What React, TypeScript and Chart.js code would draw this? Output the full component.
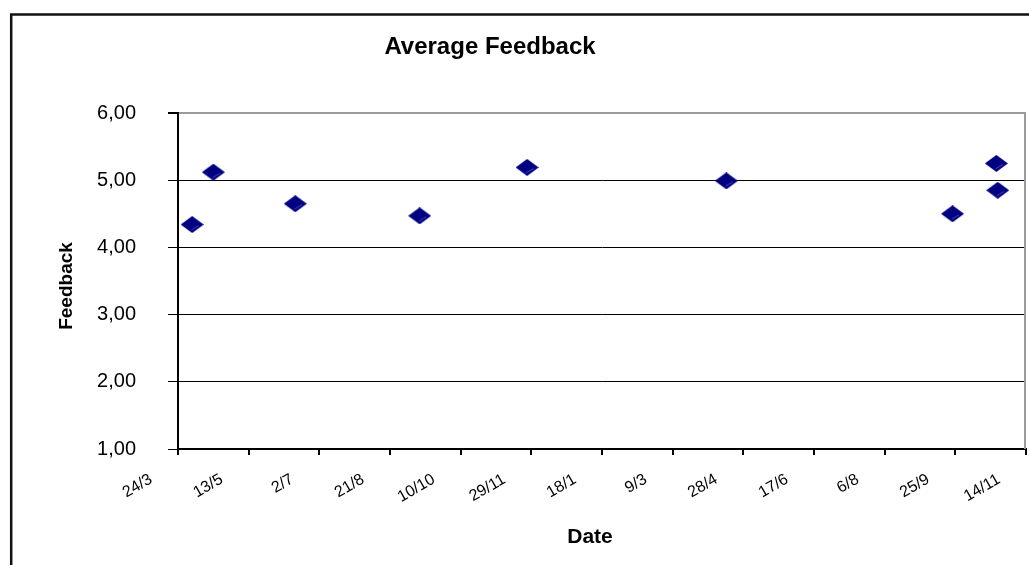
import React, { useEffect, useRef } from 'react';
import { Chart, registerables } from 'chart.js';

Chart.register(...registerables);

// ---- data ----
const chartTitle = 'Average Feedback';
const xAxisTitle = 'Date';
const yAxisTitle = 'Feedback';
const axisStartDate = '2006-03-24';
const axisEndDate = '2007-11-14';
const xTickStepDays = 50;
const yMin = 1;
const yMax = 6;
const yStep = 1;
const feedbackDates = [
  '2006-04-03',
  '2006-04-18',
  '2006-06-15',
  '2006-09-11',
  '2006-11-26',
  '2007-04-16',
  '2007-09-23',
  '2007-10-24',
  '2007-10-25',
];
const feedbackValues = [4.34, 5.12, 4.65, 4.47, 5.19, 4.99, 4.5, 5.25, 4.85];

const DAY = 86400000;
const utc = (s: string) => {
  const [y, m, d] = s.split('-').map(Number);
  return Date.UTC(y, m - 1, d);
};
const startUTC = utc(axisStartDate);
const dayNum = (s: string) => Math.round((utc(s) - startUTC) / DAY);

const W = 1029;
const H = 565;
const FONT = '"Liberation Sans", Arial, Helvetica, sans-serif';

function makeDiamond(): HTMLCanvasElement {
  const c = document.createElement('canvas');
  const w = 23;
  const h = 17;
  c.width = w;
  c.height = h;
  const g = c.getContext('2d')!;
  g.beginPath();
  g.moveTo(w / 2, 0);
  g.lineTo(w, h / 2);
  g.lineTo(w / 2, h);
  g.lineTo(0, h / 2);
  g.closePath();
  g.fillStyle = '#000080';
  g.fill();
  g.beginPath();
  g.moveTo(w / 2 - 1, h - 3);
  g.lineTo(w - 5, h / 2 + 1);
  g.strokeStyle = '#4848c0';
  g.lineWidth = 1;
  g.stroke();
  return c;
}

export default function App() {
  const ref = useRef<HTMLCanvasElement | null>(null);

  useEffect(() => {
    if (!ref.current) return;
    const diamond = makeDiamond();

    const decor = {
      id: 'decor',
      beforeDraw(chart: any) {
        const ctx = chart.ctx;
        ctx.save();
        ctx.fillStyle = '#ffffff';
        ctx.fillRect(0, 0, W, H);
        ctx.strokeStyle = '#111111';
        ctx.lineWidth = 2.5;
        ctx.beginPath();
        ctx.moveTo(11.2, H + 10);
        ctx.lineTo(11.2, 14.5);
        ctx.lineTo(W + 10, 14.5);
        ctx.stroke();
        ctx.restore();
      },
      beforeDatasetsDraw(chart: any) {
        const ctx = chart.ctx;
        const a = chart.chartArea;
        ctx.save();
        ctx.strokeStyle = '#9a9a9a';
        ctx.lineWidth = 2;
        ctx.beginPath();
        ctx.moveTo(a.right - 1, a.top);
        ctx.lineTo(a.right - 1, a.bottom);
        ctx.stroke();
        ctx.restore();
      },
      afterDraw(chart: any) {
        const ctx = chart.ctx;
        const a = chart.chartArea;
        ctx.save();
        ctx.fillStyle = '#000';
        ctx.textBaseline = 'alphabetic';
        ctx.textAlign = 'center';
        ctx.font = `bold 24px ${FONT}`;
        ctx.fillText(chartTitle, 490, 54);
        ctx.font = `bold 21px ${FONT}`;
        ctx.fillText(xAxisTitle, 590, 543);
        ctx.translate(72, (a.top + a.bottom) / 2 + 5);
        ctx.rotate(-Math.PI / 2);
        ctx.font = `bold 19px ${FONT}`;
        ctx.fillText(yAxisTitle, 0, 0);
        ctx.restore();
      },
    };

    const chart = new Chart(ref.current, {
      type: 'scatter',
      data: {
        datasets: [
          {
            label: yAxisTitle,
            data: feedbackDates.map((d, i) => ({ x: dayNum(d), y: feedbackValues[i] })),
            pointStyle: diamond as any,
            pointRadius: 11,
            showLine: false,
          },
        ],
      },
      options: {
        animation: false,
        responsive: false,
        devicePixelRatio: 1,
        layout: { autoPadding: false, padding: { top: 113, right: 3, left: 0, bottom: 0 } },
        plugins: {
          legend: { display: false },
          tooltip: { enabled: false },
          title: { display: false },
        },
        scales: {
          x: {
            type: 'linear',
            min: 0,
            max: dayNum(axisEndDate),
            afterFit: (s: any) => {
              s.height = H - 449;
              s.paddingLeft = 0;
              s.paddingRight = 0;
            },
            ticks: {
              stepSize: xTickStepDays,
              autoSkip: false,
              minRotation: 30,
              maxRotation: 30,
              labelOffset: -27,
              padding: 15,
              color: '#000',
              font: { family: FONT, size: 16 },
              callback: (v: any) => {
                const dt = new Date(startUTC + Number(v) * DAY);
                return `${dt.getUTCDate()}/${dt.getUTCMonth() + 1}`;
              },
            },
            grid: {
              drawOnChartArea: false,
              drawTicks: true,
              tickLength: 6,
              color: '#000',
              lineWidth: 2,
            },
            border: { display: true, color: '#000', width: 2 },
          },
          y: {
            type: 'linear',
            min: yMin,
            max: yMax,
            afterFit: (s: any) => {
              s.width = 178;
            },
            ticks: {
              stepSize: yStep,
              padding: 32,
              color: '#000',
              font: { family: FONT, size: 20 },
              callback: (v: any) => Number(v).toFixed(2).replace('.', ','),
            },
            grid: {
              color: (c: any) => (c.tick && c.tick.value === yMax ? '#9a9a9a' : '#000'),
              lineWidth: (c: any) => (c.tick && c.tick.value === yMax ? 2 : 1),
              tickColor: '#000',
              tickLength: 10,
              drawTicks: true,
            },
            border: { display: true, color: '#000', width: 2 },
          },
        },
      },
      plugins: [decor],
    });

    return () => chart.destroy();
  }, []);

  return (
    <div style={{ position: 'fixed', left: 0, top: 0, width: W, height: H, background: '#fff' }}>
      <canvas ref={ref} width={W} height={H} style={{ display: 'block', width: W, height: H }} />
    </div>
  );
}
